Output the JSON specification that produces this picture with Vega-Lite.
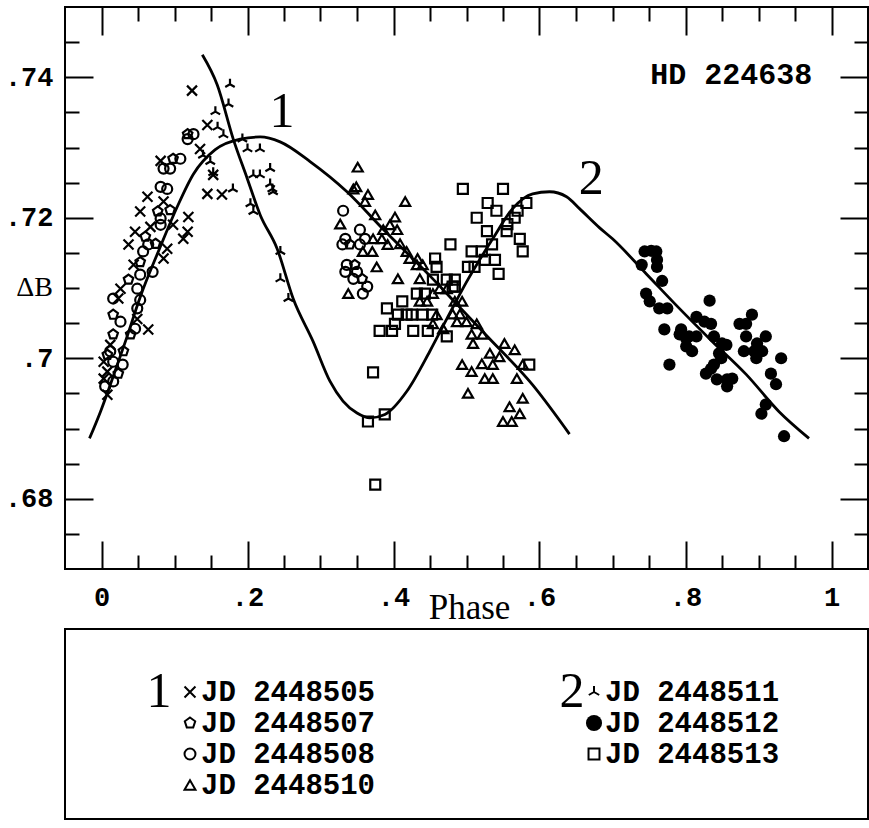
{
  "$schema": "https://vega.github.io/schema/vega-lite/v6.json",
  "background": "white",
  "padding": {"left": 3, "top": 5, "right": 0, "bottom": 0},
  "spacing": 2,
  "config": {"view": {"stroke": "black", "strokeWidth": 2}, "font": "Liberation Mono"},
  "resolve": {"scale": {"x": "independent", "y": "independent"}},
  "datasets": {
    "pts": [
      {"s":"JD 2448505","p":0.063,"b":0.7230},{"s":"JD 2448505","p":0.085,"b":0.7223},{"s":"JD 2448505","p":0.119,"b":0.7201},{"s":"JD 2448505","p":0.098,"b":0.7190},{"s":"JD 2448505","p":0.046,"b":0.7180},{"s":"JD 2448505","p":0.118,"b":0.7180},{"s":"JD 2448505","p":0.112,"b":0.7170},{"s":"JD 2448505","p":0.037,"b":0.7162},{"s":"JD 2448505","p":0.090,"b":0.7156},{"s":"JD 2448505","p":0.085,"b":0.7142},{"s":"JD 2448505","p":0.044,"b":0.7133},{"s":"JD 2448505","p":0.026,"b":0.7099},{"s":"JD 2448505","p":0.023,"b":0.7085},{"s":"JD 2448505","p":0.049,"b":0.7056},{"s":"JD 2448505","p":0.064,"b":0.7041},{"s":"JD 2448505","p":0.012,"b":0.7019},{"s":"JD 2448505","p":0.003,"b":0.6995},{"s":"JD 2448505","p":0.008,"b":0.6981},{"s":"JD 2448505","p":0.003,"b":0.6971},{"s":"JD 2448505","p":0.008,"b":0.6948},{"s":"JD 2448505","p":0.124,"b":0.7381},{"s":"JD 2448505","p":0.145,"b":0.7332},{"s":"JD 2448505","p":0.135,"b":0.7298},{"s":"JD 2448505","p":0.153,"b":0.7261},{"s":"JD 2448505","p":0.081,"b":0.7281},{"s":"JD 2448505","p":0.145,"b":0.7234},{"s":"JD 2448505","p":0.165,"b":0.7233},{"s":"JD 2448505","p":0.053,"b":0.7209},{"s":"JD 2448505","p":0.067,"b":0.7187},
      {"s":"JD 2448507","p":0.077,"b":0.7209},{"s":"JD 2448507","p":0.094,"b":0.7211},{"s":"JD 2448507","p":0.060,"b":0.7173},{"s":"JD 2448507","p":0.074,"b":0.7163},{"s":"JD 2448507","p":0.053,"b":0.7137},{"s":"JD 2448507","p":0.037,"b":0.7112},{"s":"JD 2448507","p":0.016,"b":0.7062},{"s":"JD 2448507","p":0.040,"b":0.7034},{"s":"JD 2448507","p":0.030,"b":0.7010},{"s":"JD 2448507","p":0.023,"b":0.6978},{"s":"JD 2448507","p":0.118,"b":0.7319},{"s":"JD 2448507","p":0.098,"b":0.7284},{"s":"JD 2448507","p":0.016,"b":0.7034},{"s":"JD 2448507","p":0.008,"b":0.7005},{"s":"JD 2448507","p":0.340,"b":0.7162},{"s":"JD 2448507","p":0.347,"b":0.7133},{"s":"JD 2448507","p":0.357,"b":0.7113},
      {"s":"JD 2448508","p":0.081,"b":0.7199},{"s":"JD 2448508","p":0.081,"b":0.7190},{"s":"JD 2448508","p":0.064,"b":0.7162},{"s":"JD 2448508","p":0.057,"b":0.7152},{"s":"JD 2448508","p":0.070,"b":0.7123},{"s":"JD 2448508","p":0.053,"b":0.7119},{"s":"JD 2448508","p":0.049,"b":0.7099},{"s":"JD 2448508","p":0.016,"b":0.7085},{"s":"JD 2448508","p":0.053,"b":0.7083},{"s":"JD 2448508","p":0.049,"b":0.7071},{"s":"JD 2448508","p":0.026,"b":0.7052},{"s":"JD 2448508","p":0.046,"b":0.7042},{"s":"JD 2448508","p":0.012,"b":0.7010},{"s":"JD 2448508","p":0.029,"b":0.6991},{"s":"JD 2448508","p":0.016,"b":0.6995},{"s":"JD 2448508","p":0.016,"b":0.6967},{"s":"JD 2448508","p":0.005,"b":0.6960},{"s":"JD 2448508","p":0.126,"b":0.7319},{"s":"JD 2448508","p":0.118,"b":0.7312},{"s":"JD 2448508","p":0.108,"b":0.7284},{"s":"JD 2448508","p":0.094,"b":0.7270},{"s":"JD 2448508","p":0.085,"b":0.7270},{"s":"JD 2448508","p":0.090,"b":0.7241},{"s":"JD 2448508","p":0.081,"b":0.7244},{"s":"JD 2448508","p":0.331,"b":0.7210},{"s":"JD 2448508","p":0.354,"b":0.7183},{"s":"JD 2448508","p":0.334,"b":0.7170},{"s":"JD 2448508","p":0.361,"b":0.7170},{"s":"JD 2448508","p":0.330,"b":0.7162},{"s":"JD 2448508","p":0.354,"b":0.7162},{"s":"JD 2448508","p":0.336,"b":0.7133},{"s":"JD 2448508","p":0.334,"b":0.7123},{"s":"JD 2448508","p":0.350,"b":0.7123},{"s":"JD 2448508","p":0.345,"b":0.7113},{"s":"JD 2448508","p":0.364,"b":0.7102},{"s":"JD 2448508","p":0.358,"b":0.7092},
      {"s":"JD 2448510","p":0.351,"b":0.7272},{"s":"JD 2448510","p":0.345,"b":0.7241},{"s":"JD 2448510","p":0.349,"b":0.7244},{"s":"JD 2448510","p":0.365,"b":0.7233},{"s":"JD 2448510","p":0.361,"b":0.7223},{"s":"JD 2448510","p":0.416,"b":0.7223},{"s":"JD 2448510","p":0.375,"b":0.7204},{"s":"JD 2448510","p":0.402,"b":0.7201},{"s":"JD 2448510","p":0.327,"b":0.7191},{"s":"JD 2448510","p":0.395,"b":0.7190},{"s":"JD 2448510","p":0.405,"b":0.7183},{"s":"JD 2448510","p":0.386,"b":0.7183},{"s":"JD 2448510","p":0.372,"b":0.7170},{"s":"JD 2448510","p":0.384,"b":0.7170},{"s":"JD 2448510","p":0.392,"b":0.7162},{"s":"JD 2448510","p":0.409,"b":0.7163},{"s":"JD 2448510","p":0.358,"b":0.7152},{"s":"JD 2448510","p":0.371,"b":0.7152},{"s":"JD 2448510","p":0.418,"b":0.7152},{"s":"JD 2448510","p":0.422,"b":0.7142},{"s":"JD 2448510","p":0.433,"b":0.7142},{"s":"JD 2448510","p":0.432,"b":0.7133},{"s":"JD 2448510","p":0.440,"b":0.7133},{"s":"JD 2448510","p":0.377,"b":0.7130},{"s":"JD 2448510","p":0.338,"b":0.7092},{"s":"JD 2448510","p":0.406,"b":0.7113},{"s":"JD 2448510","p":0.436,"b":0.7113},{"s":"JD 2448510","p":0.463,"b":0.7099},{"s":"JD 2448510","p":0.473,"b":0.7099},{"s":"JD 2448510","p":0.454,"b":0.7092},{"s":"JD 2448510","p":0.484,"b":0.7081},{"s":"JD 2448510","p":0.494,"b":0.7081},{"s":"JD 2448510","p":0.436,"b":0.7081},{"s":"JD 2448510","p":0.446,"b":0.7081},{"s":"JD 2448510","p":0.459,"b":0.7062},{"s":"JD 2448510","p":0.454,"b":0.7049},{"s":"JD 2448510","p":0.468,"b":0.7042},{"s":"JD 2448510","p":0.481,"b":0.7063},{"s":"JD 2448510","p":0.491,"b":0.7063},{"s":"JD 2448510","p":0.487,"b":0.7052},{"s":"JD 2448510","p":0.500,"b":0.7052},{"s":"JD 2448510","p":0.514,"b":0.7049},{"s":"JD 2448510","p":0.507,"b":0.7034},{"s":"JD 2448510","p":0.509,"b":0.7021},{"s":"JD 2448510","p":0.522,"b":0.7034},{"s":"JD 2448510","p":0.552,"b":0.7021},{"s":"JD 2448510","p":0.566,"b":0.7012},{"s":"JD 2448510","p":0.532,"b":0.7007},{"s":"JD 2448510","p":0.545,"b":0.7002},{"s":"JD 2448510","p":0.494,"b":0.6991},{"s":"JD 2448510","p":0.521,"b":0.6992},{"s":"JD 2448510","p":0.536,"b":0.6991},{"s":"JD 2448510","p":0.577,"b":0.6991},{"s":"JD 2448510","p":0.507,"b":0.6981},{"s":"JD 2448510","p":0.525,"b":0.6971},{"s":"JD 2448510","p":0.536,"b":0.6971},{"s":"JD 2448510","p":0.569,"b":0.6971},{"s":"JD 2448510","p":0.502,"b":0.6950},{"s":"JD 2448510","p":0.577,"b":0.6943},{"s":"JD 2448510","p":0.559,"b":0.6931},{"s":"JD 2448510","p":0.573,"b":0.6921},{"s":"JD 2448510","p":0.550,"b":0.6910},{"s":"JD 2448510","p":0.562,"b":0.6910},
      {"s":"JD 2448511","p":0.176,"b":0.7390},{"s":"JD 2448511","p":0.174,"b":0.7362},{"s":"JD 2448511","p":0.156,"b":0.7351},{"s":"JD 2448511","p":0.159,"b":0.7329},{"s":"JD 2448511","p":0.167,"b":0.7318},{"s":"JD 2448511","p":0.193,"b":0.7312},{"s":"JD 2448511","p":0.200,"b":0.7298},{"s":"JD 2448511","p":0.217,"b":0.7298},{"s":"JD 2448511","p":0.231,"b":0.7270},{"s":"JD 2448511","p":0.217,"b":0.7261},{"s":"JD 2448511","p":0.208,"b":0.7261},{"s":"JD 2448511","p":0.231,"b":0.7248},{"s":"JD 2448511","p":0.235,"b":0.7237},{"s":"JD 2448511","p":0.180,"b":0.7241},{"s":"JD 2448511","p":0.149,"b":0.7280},{"s":"JD 2448511","p":0.139,"b":0.7289},{"s":"JD 2448511","p":0.153,"b":0.7264},{"s":"JD 2448511","p":0.234,"b":0.7241},{"s":"JD 2448511","p":0.204,"b":0.7220},{"s":"JD 2448511","p":0.208,"b":0.7209},{"s":"JD 2448511","p":0.245,"b":0.7152},{"s":"JD 2448511","p":0.245,"b":0.7113},{"s":"JD 2448511","p":0.256,"b":0.7085},
      {"s":"JD 2448512","p":0.744,"b":0.7152},{"s":"JD 2448512","p":0.753,"b":0.7153},{"s":"JD 2448512","p":0.760,"b":0.7152},{"s":"JD 2448512","p":0.761,"b":0.7140},{"s":"JD 2448512","p":0.740,"b":0.7133},{"s":"JD 2448512","p":0.761,"b":0.7130},{"s":"JD 2448512","p":0.768,"b":0.7110},{"s":"JD 2448512","p":0.746,"b":0.7092},{"s":"JD 2448512","p":0.751,"b":0.7081},{"s":"JD 2448512","p":0.764,"b":0.7071},{"s":"JD 2448512","p":0.775,"b":0.7071},{"s":"JD 2448512","p":0.833,"b":0.7082},{"s":"JD 2448512","p":0.815,"b":0.7059},{"s":"JD 2448512","p":0.826,"b":0.7052},{"s":"JD 2448512","p":0.835,"b":0.7049},{"s":"JD 2448512","p":0.771,"b":0.7041},{"s":"JD 2448512","p":0.794,"b":0.7041},{"s":"JD 2448512","p":0.792,"b":0.7034},{"s":"JD 2448512","p":0.801,"b":0.7028},{"s":"JD 2448512","p":0.805,"b":0.7031},{"s":"JD 2448512","p":0.815,"b":0.7031},{"s":"JD 2448512","p":0.839,"b":0.7031},{"s":"JD 2448512","p":0.874,"b":0.7049},{"s":"JD 2448512","p":0.883,"b":0.7049},{"s":"JD 2448512","p":0.891,"b":0.7062},{"s":"JD 2448512","p":0.883,"b":0.7031},{"s":"JD 2448512","p":0.801,"b":0.7017},{"s":"JD 2448512","p":0.809,"b":0.7010},{"s":"JD 2448512","p":0.850,"b":0.7021},{"s":"JD 2448512","p":0.856,"b":0.7019},{"s":"JD 2448512","p":0.846,"b":0.7007},{"s":"JD 2448512","p":0.910,"b":0.7031},{"s":"JD 2448512","p":0.898,"b":0.7021},{"s":"JD 2448512","p":0.880,"b":0.7010},{"s":"JD 2448512","p":0.894,"b":0.7010},{"s":"JD 2448512","p":0.905,"b":0.7010},{"s":"JD 2448512","p":0.897,"b":0.7000},{"s":"JD 2448512","p":0.778,"b":0.6991},{"s":"JD 2448512","p":0.849,"b":0.7000},{"s":"JD 2448512","p":0.839,"b":0.6991},{"s":"JD 2448512","p":0.835,"b":0.6985},{"s":"JD 2448512","p":0.828,"b":0.6978},{"s":"JD 2448512","p":0.931,"b":0.7000},{"s":"JD 2448512","p":0.917,"b":0.6978},{"s":"JD 2448512","p":0.924,"b":0.6963},{"s":"JD 2448512","p":0.843,"b":0.6970},{"s":"JD 2448512","p":0.857,"b":0.6970},{"s":"JD 2448512","p":0.864,"b":0.6971},{"s":"JD 2448512","p":0.857,"b":0.6960},{"s":"JD 2448512","p":0.910,"b":0.6934},{"s":"JD 2448512","p":0.904,"b":0.6921},{"s":"JD 2448512","p":0.935,"b":0.6889},
      {"s":"JD 2448513","p":0.457,"b":0.7142},{"s":"JD 2448513","p":0.459,"b":0.7130},{"s":"JD 2448513","p":0.454,"b":0.7112},{"s":"JD 2448513","p":0.473,"b":0.7112},{"s":"JD 2448513","p":0.484,"b":0.7112},{"s":"JD 2448513","p":0.484,"b":0.7102},{"s":"JD 2448513","p":0.432,"b":0.7092},{"s":"JD 2448513","p":0.443,"b":0.7092},{"s":"JD 2448513","p":0.412,"b":0.7081},{"s":"JD 2448513","p":0.391,"b":0.7071},{"s":"JD 2448513","p":0.406,"b":0.7062},{"s":"JD 2448513","p":0.418,"b":0.7062},{"s":"JD 2448513","p":0.425,"b":0.7062},{"s":"JD 2448513","p":0.440,"b":0.7062},{"s":"JD 2448513","p":0.453,"b":0.7062},{"s":"JD 2448513","p":0.402,"b":0.7049},{"s":"JD 2448513","p":0.381,"b":0.7039},{"s":"JD 2448513","p":0.398,"b":0.7039},{"s":"JD 2448513","p":0.427,"b":0.7039},{"s":"JD 2448513","p":0.447,"b":0.7039},{"s":"JD 2448513","p":0.473,"b":0.7031},{"s":"JD 2448513","p":0.586,"b":0.6991},{"s":"JD 2448513","p":0.372,"b":0.6980},{"s":"JD 2448513","p":0.365,"b":0.6910},{"s":"JD 2448513","p":0.388,"b":0.6920},{"s":"JD 2448513","p":0.495,"b":0.7241},{"s":"JD 2448513","p":0.550,"b":0.7241},{"s":"JD 2448513","p":0.529,"b":0.7221},{"s":"JD 2448513","p":0.541,"b":0.7210},{"s":"JD 2448513","p":0.514,"b":0.7200},{"s":"JD 2448513","p":0.582,"b":0.7221},{"s":"JD 2448513","p":0.570,"b":0.7210},{"s":"JD 2448513","p":0.566,"b":0.7200},{"s":"JD 2448513","p":0.556,"b":0.7191},{"s":"JD 2448513","p":0.528,"b":0.7181},{"s":"JD 2448513","p":0.555,"b":0.7181},{"s":"JD 2448513","p":0.573,"b":0.7170},{"s":"JD 2448513","p":0.478,"b":0.7162},{"s":"JD 2448513","p":0.535,"b":0.7162},{"s":"JD 2448513","p":0.577,"b":0.7152},{"s":"JD 2448513","p":0.507,"b":0.7152},{"s":"JD 2448513","p":0.521,"b":0.7152},{"s":"JD 2448513","p":0.525,"b":0.7140},{"s":"JD 2448513","p":0.539,"b":0.7140},{"s":"JD 2448513","p":0.502,"b":0.7130},{"s":"JD 2448513","p":0.511,"b":0.7130},{"s":"JD 2448513","p":0.544,"b":0.7120},{"s":"JD 2448513","p":0.481,"b":0.7102},{"s":"JD 2448513","p":0.375,"b":0.6820}
    ],
    "curves": [
      {"c":1,"p":-0.0164,"b":0.6886},{"c":1,"p":-0.0014,"b":0.6924},{"c":1,"p":0.0123,"b":0.6963},{"c":1,"p":0.0328,"b":0.7024},{"c":1,"p":0.0533,"b":0.7088},{"c":1,"p":0.0807,"b":0.7159},{"c":1,"p":0.1039,"b":0.7216},{"c":1,"p":0.1258,"b":0.7262},{"c":1,"p":0.1558,"b":0.7297},{"c":1,"p":0.19,"b":0.7312},{"c":1,"p":0.2174,"b":0.7315},{"c":1,"p":0.2447,"b":0.7308},{"c":1,"p":0.2857,"b":0.728},{"c":1,"p":0.3363,"b":0.7237},{"c":1,"p":0.3855,"b":0.7184},{"c":1,"p":0.4539,"b":0.7113},{"c":1,"p":0.4867,"b":0.7077},{"c":1,"p":0.5277,"b":0.7032},{"c":1,"p":0.5906,"b":0.6962},{"c":1,"p":0.6411,"b":0.6892},
      {"c":2,"p":0.1381,"b":0.7432},{"c":2,"p":0.1586,"b":0.7389},{"c":2,"p":0.1805,"b":0.7312},{"c":2,"p":0.1996,"b":0.7256},{"c":2,"p":0.2174,"b":0.7204},{"c":2,"p":0.2406,"b":0.7156},{"c":2,"p":0.2625,"b":0.7085},{"c":2,"p":0.2898,"b":0.7024},{"c":2,"p":0.3131,"b":0.6967},{"c":2,"p":0.3308,"b":0.6939},{"c":2,"p":0.35,"b":0.6922},{"c":2,"p":0.3677,"b":0.6915},{"c":2,"p":0.3882,"b":0.692},{"c":2,"p":0.4183,"b":0.6953},{"c":2,"p":0.4498,"b":0.701},{"c":2,"p":0.473,"b":0.7056},{"c":2,"p":0.5003,"b":0.7109},{"c":2,"p":0.5359,"b":0.717},{"c":2,"p":0.5632,"b":0.7213},{"c":2,"p":0.5906,"b":0.7234},{"c":2,"p":0.6138,"b":0.7237},{"c":2,"p":0.6371,"b":0.723},{"c":2,"p":0.6548,"b":0.7213},{"c":2,"p":0.682,"b":0.7186},{"c":2,"p":0.7,"b":0.717},{"c":2,"p":0.7464,"b":0.712},{"c":2,"p":0.7915,"b":0.7071},{"c":2,"p":0.8366,"b":0.7024},{"c":2,"p":0.8831,"b":0.6977},{"c":2,"p":0.9282,"b":0.6924},{"c":2,"p":0.9692,"b":0.6886}
    ],
    "nums": [{"t":"1","p":0.2474,"b":0.7351},{"t":"2","p":0.671,"b":0.7255}],
    "star": [{"t":"HD 224638","p":0.8626,"b":0.7403}],
    "legend": [
      {"s":"JD 2448505","col":1,"row":1},{"s":"JD 2448507","col":1,"row":2},{"s":"JD 2448508","col":1,"row":3},{"s":"JD 2448510","col":1,"row":4},
      {"s":"JD 2448511","col":2,"row":1},{"s":"JD 2448512","col":2,"row":2},{"s":"JD 2448513","col":2,"row":3}
    ]
  },
  "vconcat": [
    {
      "width": 803,
      "height": 562,
      "resolve": {"axis": {"x": "independent", "y": "independent"}},
      "layer": [
        {
          "data": {"name": "pts"},
          "transform": [{"filter": "datum.s != 'JD 2448512'"}],
          "mark": {"type": "point", "filled": false, "stroke": "black", "strokeWidth": 2.2, "size": 100, "opacity": 1},
          "encoding": {
            "x": {"field": "p", "type": "quantitative", "scale": {"domain": [-0.05, 1.05], "nice": false, "zero": false},
              "axis": {"orient": "bottom", "values": [0, 0.2, 0.4, 0.6, 0.8, 1], "tickSize": -28, "tickWidth": 2, "tickColor": "black", "domain": false, "grid": false,
                "labelExpr": "datum.value == 0 ? '0' : datum.value == 1 ? '1' : replace(format(datum.value, '.1f'), '0.', '.')",
                "labelFont": "Liberation Mono", "labelFontWeight": "bold", "labelFontSize": 27, "labelColor": "black", "labelPadding": 43, "labelFlush": false, "labelOverlap": false,
                "title": "Phase", "titleFont": "Liberation Serif", "titleFontSize": 35, "titleFontWeight": "normal", "titleColor": "black", "titleX": 404, "titleY": 38, "titleAlign": "center", "titleBaseline": "middle"}},
            "y": {"field": "b", "type": "quantitative", "scale": {"domain": [0.67, 0.75], "nice": false, "zero": false},
              "axis": {"orient": "left", "values": [0.68, 0.7, 0.72, 0.74], "tickSize": -28, "tickWidth": 2, "tickColor": "black", "domain": false, "grid": false,
                "labelExpr": "replace(format(datum.value, '.2~f'), '0.', '.')",
                "labelFont": "Liberation Mono", "labelFontWeight": "bold", "labelFontSize": 27, "labelColor": "black", "labelPadding": 40, "labelFlush": false, "labelOverlap": false,
                "title": "ΔB", "titleFont": "Liberation Serif", "titleFontSize": 28, "titleFontWeight": "normal", "titleColor": "black", "titleAngle": 0, "titleX": -31, "titleY": 280, "titleAlign": "center", "titleBaseline": "middle"}},
            "shape": {"field": "s", "type": "nominal", "legend": null,
              "scale": {"domain": ["JD 2448505","JD 2448507","JD 2448508","JD 2448510","JD 2448511","JD 2448512","JD 2448513"],
                "range": ["M-1,-1L1,1M-1,1L1,-1", "M0,-1L0.951,-0.309L0.588,0.809L-0.588,0.809L-0.951,-0.309Z", "circle", "triangle-up", "M0,0L0,-1.1M0,0L-0.95,0.55M0,0L0.95,0.55", "circle", "square"]}}
          }
        },
        {
          "data": {"name": "pts"},
          "transform": [{"filter": "datum.s == 'JD 2448512'"}],
          "mark": {"type": "circle", "color": "black", "size": 150, "opacity": 1},
          "encoding": {
            "x": {"field": "p", "type": "quantitative", "scale": {"domain": [-0.05, 1.05], "nice": false, "zero": false},
              "axis": {"orient": "bottom", "values": [0.05,0.1,0.15,0.25,0.3,0.35,0.45,0.5,0.55,0.65,0.7,0.75,0.85,0.9,0.95], "tickSize": -14, "tickWidth": 2, "tickColor": "black", "domain": false, "grid": false, "labels": false, "title": null}},
            "y": {"field": "b", "type": "quantitative", "scale": {"domain": [0.67, 0.75], "nice": false, "zero": false},
              "axis": {"orient": "left", "values": [0.675,0.685,0.69,0.695,0.705,0.71,0.715,0.725,0.73,0.735,0.745], "tickSize": -14, "tickWidth": 2, "tickColor": "black", "domain": false, "grid": false, "labels": false, "title": null}}
          }
        },
        {
          "data": {"name": "curves"},
          "mark": {"type": "line", "color": "black", "strokeWidth": 2.8, "interpolate": "monotone"},
          "encoding": {
            "x": {"field": "p", "type": "quantitative", "scale": {"domain": [-0.05, 1.05], "nice": false, "zero": false},
              "axis": {"orient": "top", "values": [0, 0.2, 0.4, 0.6, 0.8, 1], "tickSize": -28, "tickWidth": 2, "tickColor": "black", "domain": false, "grid": false, "labels": false, "title": null}},
            "y": {"field": "b", "type": "quantitative", "scale": {"domain": [0.67, 0.75], "nice": false, "zero": false},
              "axis": {"orient": "right", "values": [0.68, 0.7, 0.72, 0.74], "tickSize": -28, "tickWidth": 2, "tickColor": "black", "domain": false, "grid": false, "labels": false, "title": null}},
            "detail": {"field": "c", "type": "nominal"}
          }
        },
        {
          "data": {"name": "nums"},
          "mark": {"type": "text", "font": "Liberation Serif", "fontSize": 50, "color": "black", "align": "center", "baseline": "middle"},
          "encoding": {
            "x": {"field": "p", "type": "quantitative", "scale": {"domain": [-0.05, 1.05], "nice": false, "zero": false},
              "axis": {"orient": "top", "values": [0.05,0.1,0.15,0.25,0.3,0.35,0.45,0.5,0.55,0.65,0.7,0.75,0.85,0.9,0.95], "tickSize": -14, "tickWidth": 2, "tickColor": "black", "domain": false, "grid": false, "labels": false, "title": null}},
            "y": {"field": "b", "type": "quantitative", "scale": {"domain": [0.67, 0.75], "nice": false, "zero": false},
              "axis": {"orient": "right", "values": [0.675,0.685,0.69,0.695,0.705,0.71,0.715,0.725,0.73,0.735,0.745], "tickSize": -14, "tickWidth": 2, "tickColor": "black", "domain": false, "grid": false, "labels": false, "title": null}},
            "text": {"field": "t"}
          }
        },
        {
          "data": {"name": "star"},
          "mark": {"type": "text", "font": "Liberation Mono", "fontWeight": "bold", "fontSize": 30, "color": "black", "align": "center", "baseline": "middle"},
          "encoding": {
            "x": {"field": "p", "type": "quantitative", "scale": {"domain": [-0.05, 1.05], "nice": false, "zero": false}, "axis": null},
            "y": {"field": "b", "type": "quantitative", "scale": {"domain": [0.67, 0.75], "nice": false, "zero": false}, "axis": null},
            "text": {"field": "t"}
          }
        }
      ]
    },
    {
      "width": 803,
      "height": 190,
      "data": {"name": "legend"},
      "layer": [
        {
          "transform": [{"filter": "datum.s != 'JD 2448512'"}],
          "mark": {"type": "point", "filled": false, "stroke": "black", "strokeWidth": 2, "size": 120, "opacity": 1},
          "encoding": {
            "x": {"field": "col", "type": "quantitative", "scale": {"domain": [0.6906, 2.6782], "nice": false, "zero": false}, "axis": null},
            "y": {"field": "row", "type": "quantitative", "scale": {"domain": [-1.032, 5.097], "nice": false, "zero": false, "reverse": true}, "axis": null},
            "shape": {"field": "s", "type": "nominal", "legend": null,
              "scale": {"domain": ["JD 2448505","JD 2448507","JD 2448508","JD 2448510","JD 2448511","JD 2448512","JD 2448513"],
                "range": ["M-1,-1L1,1M-1,1L1,-1", "M0,-1L0.951,-0.309L0.588,0.809L-0.588,0.809L-0.951,-0.309Z", "circle", "triangle-up", "M0,0L0,-1.1M0,0L-0.95,0.55M0,0L0.95,0.55", "circle", "square"]}}
          }
        },
        {
          "transform": [{"filter": "datum.s == 'JD 2448512'"}],
          "mark": {"type": "circle", "color": "black", "size": 260, "opacity": 1},
          "encoding": {
            "x": {"field": "col", "type": "quantitative", "scale": {"domain": [0.6906, 2.6782], "nice": false, "zero": false}, "axis": null},
            "y": {"field": "row", "type": "quantitative", "scale": {"domain": [-1.032, 5.097], "nice": false, "zero": false, "reverse": true}, "axis": null}
          }
        },
        {
          "mark": {"type": "text", "font": "Liberation Mono", "fontWeight": "bold", "fontSize": 29, "color": "black", "align": "left", "baseline": "middle", "dx": 11},
          "encoding": {
            "x": {"field": "col", "type": "quantitative", "scale": {"domain": [0.6906, 2.6782], "nice": false, "zero": false}, "axis": null},
            "y": {"field": "row", "type": "quantitative", "scale": {"domain": [-1.032, 5.097], "nice": false, "zero": false, "reverse": true}, "axis": null},
            "text": {"field": "s"}
          }
        },
        {
          "transform": [{"filter": "datum.row == 1 && datum.col == 1"}],
          "mark": {"type": "text", "font": "Liberation Serif", "fontSize": 50, "color": "black", "align": "center", "baseline": "middle", "dx": -31},
          "encoding": {
            "x": {"field": "col", "type": "quantitative", "scale": {"domain": [0.6906, 2.6782], "nice": false, "zero": false}, "axis": null},
            "y": {"field": "row", "type": "quantitative", "scale": {"domain": [-1.032, 5.097], "nice": false, "zero": false, "reverse": true}, "axis": null},
            "text": {"field": "col", "type": "nominal"}
          }
        },
        {
          "transform": [{"filter": "datum.row == 1 && datum.col == 2"}],
          "mark": {"type": "text", "font": "Liberation Serif", "fontSize": 50, "color": "black", "align": "center", "baseline": "middle", "dx": -22},
          "encoding": {
            "x": {"field": "col", "type": "quantitative", "scale": {"domain": [0.6906, 2.6782], "nice": false, "zero": false}, "axis": null},
            "y": {"field": "row", "type": "quantitative", "scale": {"domain": [-1.032, 5.097], "nice": false, "zero": false, "reverse": true}, "axis": null},
            "text": {"field": "col", "type": "nominal"}
          }
        }
      ]
    }
  ]
}
